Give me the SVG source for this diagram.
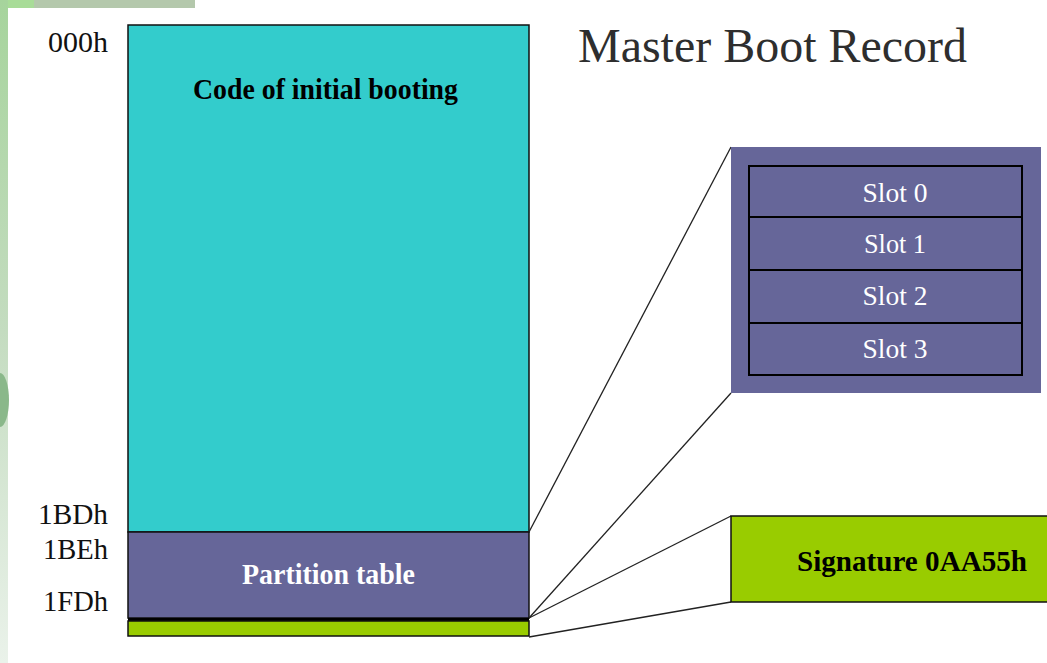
<svg xmlns="http://www.w3.org/2000/svg" width="1047" height="663" viewBox="0 0 1047 663">
<defs>
<linearGradient id="leftStrip" x1="0" y1="0" x2="0" y2="1">
<stop offset="0" stop-color="#a6d49c"/>
<stop offset="0.5" stop-color="#c4dcc0"/>
<stop offset="1" stop-color="#eaf2ea"/>
</linearGradient>
<style>
.lbl{font-family:"Liberation Serif",serif;font-size:29px;fill:#111}
.bold{font-family:"Liberation Serif",serif;font-size:29px;font-weight:bold}
.slot{font-family:"Liberation Serif",serif;font-size:28px;fill:#ffffff;text-anchor:middle}
.box{stroke:#111;stroke-width:1.5}
.slotbox{fill:#666699;stroke:#000;stroke-width:2}
.conn{stroke:#222;stroke-width:1.3;fill:none}
</style>
</defs>
<rect width="1047" height="663" fill="#ffffff"/>
<rect x="0" y="0" width="195" height="8" fill="#b4c8ac"/>
<rect x="0" y="0" width="34" height="8" fill="#a8dc98"/>
<rect x="0" y="0" width="8" height="663" fill="url(#leftStrip)"/>
<ellipse cx="0" cy="400" rx="9" ry="27" fill="#8ab88a"/>

<text class="lbl" x="108" y="52" text-anchor="end" textLength="60" lengthAdjust="spacingAndGlyphs">000h</text>
<text class="lbl" x="108" y="524" text-anchor="end" textLength="70" lengthAdjust="spacingAndGlyphs">1BDh</text>
<text class="lbl" x="108" y="559" text-anchor="end" textLength="65" lengthAdjust="spacingAndGlyphs">1BEh</text>
<text class="lbl" x="108" y="611" text-anchor="end" textLength="65" lengthAdjust="spacingAndGlyphs">1FDh</text>

<text x="578" y="62" font-family="Liberation Serif, serif" font-size="48" fill="#2e2e2e" textLength="389" lengthAdjust="spacingAndGlyphs">Master Boot Record</text>

<g id="code">
<rect class="box" x="128" y="25" width="401" height="507" fill="#33cccc"/>
<text class="bold" x="193" y="99" fill="#000" textLength="265" lengthAdjust="spacingAndGlyphs">Code of initial booting</text>
</g>
<g id="partition">
<rect class="box" x="128" y="532" width="401" height="86" fill="#666699"/>
<text class="bold" x="242" y="584" fill="#ffffff" textLength="173" lengthAdjust="spacingAndGlyphs">Partition table</text>
</g>
<g id="sigstrip">
<rect x="128" y="618" width="401" height="3" fill="#000"/>
<rect class="box" x="128" y="621" width="401" height="15" fill="#99cc00"/>
</g>

<g id="connectors">
<line class="conn" x1="529" y1="532" x2="731" y2="147"/>
<line class="conn" x1="529" y1="618" x2="731" y2="393"/>
<line class="conn" x1="529" y1="618" x2="731" y2="516"/>
<line class="conn" x1="529" y1="637" x2="731" y2="602"/>
</g>

<g id="slots">
<rect x="731" y="147" width="310" height="246" fill="#666699"/>
<rect class="slotbox" x="749" y="166" width="273" height="51"/>
<rect class="slotbox" x="749" y="217" width="273" height="53"/>
<rect class="slotbox" x="749" y="270" width="273" height="53"/>
<rect class="slotbox" x="749" y="323" width="273" height="52"/>
<text class="slot" x="895" y="202" textLength="65" lengthAdjust="spacingAndGlyphs">Slot 0</text>
<text class="slot" x="895" y="253" textLength="62" lengthAdjust="spacingAndGlyphs">Slot 1</text>
<text class="slot" x="895" y="305" textLength="65" lengthAdjust="spacingAndGlyphs">Slot 2</text>
<text class="slot" x="895" y="358" textLength="65" lengthAdjust="spacingAndGlyphs">Slot 3</text>
</g>

<g id="signature">
<rect class="box" x="731" y="516" width="320" height="86" fill="#99cc00"/>
<text class="bold" x="797" y="571" fill="#000" textLength="230" lengthAdjust="spacingAndGlyphs">Signature 0AA55h</text>
</g>
</svg>
